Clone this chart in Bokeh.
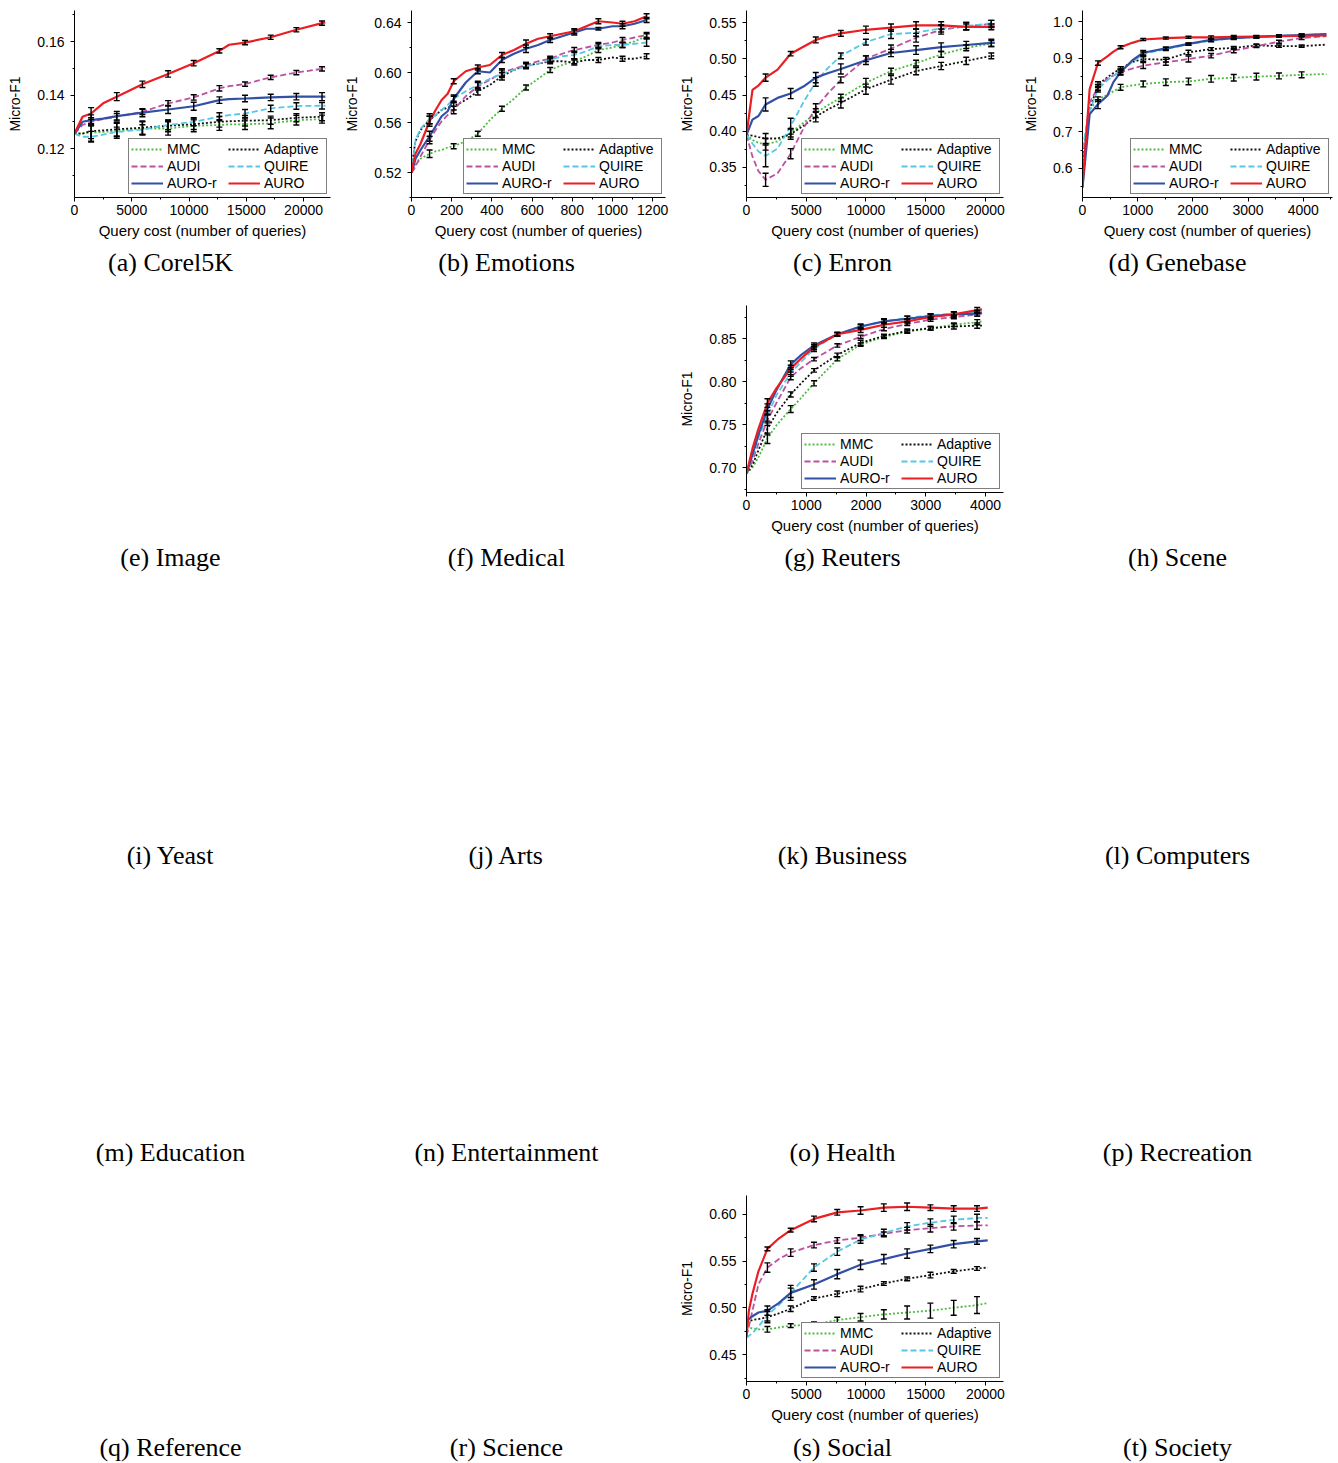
from bokeh.plotting import figure
from bokeh.layouts import row, column
from bokeh.models import Legend, LegendItem, Label, SingleIntervalTicker, NumeralTickFormatter, Range1d, Spacer
from bokeh.embed import file_html
from bokeh.resources import INLINE

SERIES = ["MMC", "Adaptive", "AUDI", "QUIRE", "AURO-r", "AURO"]
COLORS = ["#4dbd3f", "#111111", "#be50a0", "#55c8e6", "#3250a5", "#eb1e23"]
DASHES = ["2 2", "2 2", "6 3", "6 3", "solid", "solid"]
WIDTHS = [1.8, 1.8, 1.8, 1.8, 2.2, 2.2]

CAPTIONS = ["(a) Corel5K", "(b) Emotions", "(c) Enron", "(d) Genebase",
            "(e) Image", "(f) Medical", "(g) Reuters", "(h) Scene",
            "(i) Yeast", "(j) Arts", "(k) Business", "(l) Computers",
            "(m) Education", "(n) Entertainment", "(o) Health", "(p) Recreation",
            "(q) Reference", "(r) Science", "(s) Social", "(t) Society"]

# ---------------- (a) Corel5K ----------------
COREL_X = [0, 700, 1450, 2500, 3690, 5930, 8170, 10410, 12650, 13500, 14890, 17130, 19370, 21610, 21900]
COREL_BARS = [1450, 3690, 5930, 8170, 10410, 12650, 14890, 17130, 19370, 21610]
COREL_MMC = [0.1256, 0.1257, 0.1259, 0.1262, 0.1266, 0.1275, 0.1275, 0.1285, 0.1288, 0.1290, 0.1291, 0.1294, 0.1306, 0.1310, 0.1311]
COREL_ADAPTIVE = [0.1256, 0.1256, 0.1265, 0.1268, 0.1272, 0.1278, 0.1285, 0.1291, 0.1300, 0.1302, 0.1304, 0.1306, 0.1315, 0.1319, 0.1320]
COREL_AUDI = [0.1256, 0.1288, 0.1300, 0.1310, 0.1319, 0.1337, 0.1369, 0.1391, 0.1425, 0.1433, 0.1441, 0.1466, 0.1484, 0.1498, 0.1500]
COREL_QUIRE = [0.1256, 0.1244, 0.1244, 0.1252, 0.1262, 0.1271, 0.1288, 0.1300, 0.1319, 0.1325, 0.1331, 0.1350, 0.1359, 0.1360, 0.1360]
COREL_AUROR = [0.1256, 0.1300, 0.1306, 0.1312, 0.1321, 0.1334, 0.1346, 0.1358, 0.1381, 0.1385, 0.1387, 0.1391, 0.1394, 0.1394, 0.1394]
COREL_AURO = [0.1256, 0.1319, 0.1331, 0.1369, 0.1394, 0.1440, 0.1479, 0.1519, 0.1565, 0.1588, 0.1596, 0.1616, 0.1644, 0.1669, 0.1671]
COREL_ERR_MMC = [0.0032, 0.0028, 0.0025, 0.0025, 0.0022, 0.0020, 0.0020, 0.0020, 0.0018, 0.0015]
COREL_ERR_ADAPTIVE = [0.0028, 0.0025, 0.0025, 0.0022, 0.0020, 0.0020, 0.0020, 0.0015, 0.0015, 0.0015]
COREL_ERR_AUDI = [0.0015, 0.0012, 0.0010, 0.0010, 0.0010, 0.0010, 0.0008, 0.0008, 0.0008, 0.0008]
COREL_ERR_QUIRE = [0.0020, 0.0018, 0.0018, 0.0018, 0.0015, 0.0015, 0.0015, 0.0012, 0.0012, 0.0012]
COREL_ERR_AUROR = [0.0020, 0.0018, 0.0015, 0.0015, 0.0015, 0.0012, 0.0012, 0.0012, 0.0012, 0.0015]
COREL_ERR_AURO = [0.0022, 0.0015, 0.0012, 0.0012, 0.0010, 0.0008, 0.0008, 0.0008, 0.0008, 0.0008]

# ---------------- (b) Emotions ----------------
EMO_X = [0, 10, 20, 45, 90, 120, 150, 180, 210, 270, 330, 390, 450, 510, 570, 630, 690, 750, 810, 870, 930, 1000, 1050, 1110, 1170]
EMO_BARS = [90, 210, 330, 450, 570, 690, 810, 930, 1050, 1170]
EMO_MMC = [0.520, 0.523, 0.526, 0.531, 0.535, 0.537, 0.538, 0.540, 0.541, 0.545, 0.551, 0.562, 0.571, 0.579, 0.588, 0.595, 0.602, 0.606, 0.609, 0.613, 0.618, 0.620, 0.622, 0.625, 0.629]
EMO_ADAPTIVE = [0.520, 0.535, 0.545, 0.554, 0.562, 0.566, 0.570, 0.572, 0.573, 0.578, 0.585, 0.590, 0.597, 0.602, 0.606, 0.607, 0.609, 0.609, 0.608, 0.610, 0.610, 0.612, 0.611, 0.611, 0.613]
EMO_AUDI = [0.520, 0.522, 0.525, 0.533, 0.546, 0.554, 0.561, 0.566, 0.570, 0.581, 0.589, 0.594, 0.600, 0.603, 0.606, 0.609, 0.611, 0.615, 0.618, 0.620, 0.622, 0.624, 0.626, 0.628, 0.630]
EMO_QUIRE = [0.520, 0.533, 0.546, 0.555, 0.563, 0.566, 0.570, 0.574, 0.579, 0.585, 0.590, 0.595, 0.599, 0.602, 0.605, 0.607, 0.610, 0.613, 0.614, 0.617, 0.621, 0.622, 0.622, 0.623, 0.624]
EMO_AUROR = [0.520, 0.525, 0.531, 0.538, 0.549, 0.557, 0.565, 0.569, 0.579, 0.592, 0.601, 0.600, 0.610, 0.615, 0.619, 0.622, 0.626, 0.629, 0.632, 0.635, 0.635, 0.637, 0.637, 0.639, 0.642]
EMO_AURO = [0.520, 0.528, 0.535, 0.543, 0.561, 0.570, 0.578, 0.583, 0.593, 0.601, 0.604, 0.606, 0.614, 0.618, 0.623, 0.627, 0.629, 0.631, 0.633, 0.637, 0.641, 0.640, 0.639, 0.641, 0.645]
EMO_ERR_MMC = [0.003, 0.002, 0.002, 0.002, 0.002, 0.002, 0.002, 0.002, 0.002, 0.002]
EMO_ERR_ADAPTIVE = [0.003, 0.003, 0.003, 0.003, 0.002, 0.002, 0.002, 0.002, 0.002, 0.002]
EMO_ERR_AUDI = [0.003, 0.003, 0.003, 0.003, 0.002, 0.002, 0.002, 0.002, 0.002, 0.002]
EMO_ERR_QUIRE = [0.004, 0.003, 0.003, 0.003, 0.002, 0.002, 0.003, 0.002, 0.002, 0.003]
EMO_ERR_AUROR = [0.004, 0.002, 0.002, 0.002, 0.003, 0.002, 0.002, 0.001, 0.002, 0.002]
EMO_ERR_AURO = [0.004, 0.002, 0.002, 0.002, 0.003, 0.002, 0.002, 0.002, 0.002, 0.002]

# ---------------- (c) Enron ----------------
ENRON_X = [0, 500, 1000, 1600, 2600, 3700, 4800, 5800, 6800, 7900, 10000, 12100, 14200, 16300, 18400, 20500, 20800]
ENRON_BARS = [1600, 3700, 5800, 7900, 10000, 12100, 14200, 16300, 18400, 20500]
ENRON_MMC = [0.395, 0.388, 0.384, 0.382, 0.386, 0.398, 0.412, 0.425, 0.436, 0.446, 0.467, 0.483, 0.494, 0.506, 0.515, 0.521, 0.522]
ENRON_ADAPTIVE = [0.395, 0.394, 0.392, 0.390, 0.390, 0.396, 0.408, 0.420, 0.430, 0.439, 0.458, 0.471, 0.483, 0.490, 0.497, 0.504, 0.504]
ENRON_AUDI = [0.395, 0.365, 0.345, 0.333, 0.342, 0.369, 0.405, 0.432, 0.452, 0.471, 0.500, 0.514, 0.529, 0.540, 0.545, 0.548, 0.548]
ENRON_QUIRE = [0.395, 0.383, 0.372, 0.366, 0.376, 0.407, 0.441, 0.468, 0.487, 0.504, 0.523, 0.534, 0.536, 0.542, 0.545, 0.549, 0.549]
ENRON_AUROR = [0.395, 0.416, 0.421, 0.437, 0.446, 0.452, 0.462, 0.474, 0.480, 0.486, 0.498, 0.508, 0.512, 0.516, 0.519, 0.522, 0.522]
ENRON_AURO = [0.395, 0.457, 0.463, 0.474, 0.485, 0.507, 0.517, 0.526, 0.531, 0.535, 0.540, 0.543, 0.546, 0.546, 0.544, 0.544, 0.544]
ENRON_ERR_MMC = [0.008, 0.006, 0.006, 0.005, 0.006, 0.004, 0.004, 0.004, 0.004, 0.004]
ENRON_ERR_ADAPTIVE = [0.007, 0.007, 0.007, 0.007, 0.007, 0.006, 0.005, 0.005, 0.005, 0.004]
ENRON_ERR_AUDI = [0.009, 0.007, 0.006, 0.004, 0.004, 0.005, 0.006, 0.006, 0.005, 0.005]
ENRON_ERR_QUIRE = [0.015, 0.011, 0.006, 0.004, 0.004, 0.006, 0.005, 0.005, 0.005, 0.004]
ENRON_ERR_AUROR = [0.009, 0.007, 0.007, 0.007, 0.006, 0.005, 0.006, 0.006, 0.005, 0.005]
ENRON_ERR_AURO = [0.005, 0.003, 0.004, 0.004, 0.005, 0.005, 0.005, 0.005, 0.004, 0.004]

# ---------------- (d) Genebase ----------------
GENE_X = [0, 130, 280, 450, 560, 690, 900, 1100, 1510, 1920, 2330, 2740, 3150, 3560, 3970, 4420]
GENE_BARS = [280, 690, 1100, 1510, 1920, 2330, 2740, 3150, 3560, 3970]
GENE_MMC = [0.600, 0.760, 0.789, 0.800, 0.810, 0.821, 0.826, 0.830, 0.835, 0.837, 0.844, 0.847, 0.850, 0.852, 0.855, 0.857]
GENE_ADAPTIVE = [0.620, 0.760, 0.828, 0.848, 0.860, 0.871, 0.890, 0.898, 0.896, 0.916, 0.925, 0.928, 0.935, 0.933, 0.933, 0.937]
GENE_AUDI = [0.630, 0.780, 0.821, 0.845, 0.853, 0.862, 0.872, 0.880, 0.889, 0.898, 0.907, 0.921, 0.933, 0.945, 0.955, 0.960]
GENE_QUIRE = [0.655, 0.757, 0.816, 0.840, 0.852, 0.866, 0.889, 0.912, 0.925, 0.938, 0.948, 0.955, 0.958, 0.961, 0.963, 0.966]
GENE_AUROR = [0.547, 0.748, 0.775, 0.798, 0.835, 0.862, 0.894, 0.915, 0.927, 0.939, 0.950, 0.955, 0.958, 0.961, 0.963, 0.966]
GENE_AURO = [0.552, 0.816, 0.887, 0.905, 0.918, 0.930, 0.942, 0.951, 0.955, 0.957, 0.957, 0.958, 0.959, 0.960, 0.961, 0.962]
GENE_ERR_MMC = [0.006, 0.008, 0.008, 0.009, 0.009, 0.009, 0.009, 0.009, 0.008, 0.008]
GENE_ERR_ADAPTIVE = [0.008, 0.006, 0.006, 0.006, 0.006, 0.004, 0.004, 0.004, 0.003, 0.003]
GENE_ERR_AUDI = [0.008, 0.006, 0.008, 0.008, 0.008, 0.006, 0.006, 0.004, 0.004, 0.004]
GENE_ERR_QUIRE = [0.008, 0.005, 0.005, 0.004, 0.003, 0.003, 0.003, 0.003, 0.003, 0.003]
GENE_ERR_AUROR = [0.012, 0.008, 0.006, 0.004, 0.003, 0.004, 0.004, 0.003, 0.003, 0.003]
GENE_ERR_AURO = [0.006, 0.004, 0.003, 0.003, 0.003, 0.004, 0.004, 0.003, 0.003, 0.003]

# ---------------- (g) Reuters ----------------
REUT_X = [0, 100, 200, 350, 500, 740, 900, 1130, 1520, 1910, 2300, 2690, 3080, 3470, 3860, 3940]
REUT_BARS = [350, 740, 1130, 1520, 1910, 2300, 2690, 3080, 3470, 3860]
REUT_MMC = [0.693, 0.700, 0.712, 0.734, 0.749, 0.768, 0.780, 0.798, 0.826, 0.843, 0.852, 0.858, 0.862, 0.866, 0.869, 0.870]
REUT_ADAPTIVE = [0.693, 0.703, 0.720, 0.745, 0.763, 0.785, 0.797, 0.813, 0.831, 0.845, 0.853, 0.859, 0.862, 0.864, 0.865, 0.865]
REUT_AUDI = [0.693, 0.708, 0.728, 0.755, 0.775, 0.805, 0.815, 0.826, 0.842, 0.852, 0.861, 0.867, 0.872, 0.875, 0.878, 0.879]
REUT_QUIRE = [0.693, 0.712, 0.735, 0.760, 0.784, 0.810, 0.822, 0.838, 0.855, 0.864, 0.870, 0.874, 0.877, 0.879, 0.881, 0.882]
REUT_AUROR = [0.693, 0.715, 0.738, 0.768, 0.790, 0.820, 0.830, 0.842, 0.855, 0.864, 0.870, 0.873, 0.876, 0.878, 0.879, 0.880]
REUT_AURO = [0.693, 0.722, 0.745, 0.775, 0.792, 0.815, 0.826, 0.840, 0.855, 0.860, 0.866, 0.870, 0.875, 0.878, 0.883, 0.884]
REUT_ERR_MMC = [0.006, 0.004, 0.003, 0.002, 0.002, 0.002, 0.002, 0.002, 0.002, 0.003]
REUT_ERR_ADAPTIVE = [0.007, 0.003, 0.002, 0.002, 0.003, 0.002, 0.002, 0.002, 0.003, 0.003]
REUT_ERR_AUDI = [0.006, 0.003, 0.002, 0.002, 0.002, 0.002, 0.002, 0.002, 0.002, 0.002]
REUT_ERR_QUIRE = [0.006, 0.004, 0.003, 0.002, 0.002, 0.002, 0.002, 0.002, 0.002, 0.002]
REUT_ERR_AUROR = [0.006, 0.004, 0.003, 0.002, 0.003, 0.003, 0.003, 0.003, 0.003, 0.003]
REUT_ERR_AURO = [0.005, 0.004, 0.003, 0.002, 0.003, 0.003, 0.003, 0.003, 0.003, 0.003]

# ---------------- (s) Social ----------------
SOC_X = [0, 200, 500, 1000, 1750, 2700, 3700, 5650, 7600, 9550, 11500, 13450, 15400, 17350, 19300, 20200]
SOC_BARS = [1750, 3700, 5650, 7600, 9550, 11500, 13450, 15400, 17350, 19300]
SOC_MMC = [0.480, 0.479, 0.478, 0.477, 0.477, 0.479, 0.481, 0.482, 0.487, 0.490, 0.493, 0.495, 0.497, 0.500, 0.503, 0.505]
SOC_ADAPTIVE = [0.486, 0.486, 0.487, 0.488, 0.490, 0.494, 0.499, 0.510, 0.515, 0.520, 0.526, 0.531, 0.535, 0.539, 0.542, 0.543]
SOC_AUDI = [0.470, 0.480, 0.497, 0.525, 0.543, 0.552, 0.559, 0.567, 0.572, 0.575, 0.579, 0.583, 0.585, 0.587, 0.588, 0.588]
SOC_QUIRE = [0.468, 0.470, 0.473, 0.480, 0.492, 0.503, 0.516, 0.543, 0.560, 0.573, 0.580, 0.587, 0.591, 0.594, 0.596, 0.596]
SOC_AUROR = [0.485, 0.488, 0.491, 0.495, 0.497, 0.505, 0.516, 0.525, 0.536, 0.546, 0.552, 0.558, 0.563, 0.568, 0.571, 0.572]
SOC_AURO = [0.469, 0.497, 0.515, 0.539, 0.563, 0.574, 0.583, 0.595, 0.602, 0.604, 0.607, 0.608, 0.607, 0.606, 0.606, 0.607]
SOC_ERR_MMC = [0.003, 0.002, 0.003, 0.003, 0.004, 0.005, 0.007, 0.008, 0.008, 0.009]
SOC_ERR_ADAPTIVE = [0.006, 0.003, 0.002, 0.003, 0.003, 0.002, 0.002, 0.003, 0.002, 0.002]
SOC_ERR_AUDI = [0.005, 0.004, 0.003, 0.003, 0.003, 0.002, 0.003, 0.004, 0.004, 0.004]
SOC_ERR_QUIRE = [0.006, 0.005, 0.004, 0.004, 0.004, 0.004, 0.004, 0.004, 0.004, 0.004]
SOC_ERR_AUROR = [0.005, 0.008, 0.005, 0.005, 0.005, 0.005, 0.005, 0.004, 0.004, 0.003]
SOC_ERR_AURO = [0.002, 0.002, 0.003, 0.003, 0.004, 0.004, 0.004, 0.003, 0.003, 0.003]

PLOTS = {
    0: dict(x=COREL_X, bars=COREL_BARS,
            ys=[COREL_MMC, COREL_ADAPTIVE, COREL_AUDI, COREL_QUIRE, COREL_AUROR, COREL_AURO],
            errs=[COREL_ERR_MMC, COREL_ERR_ADAPTIVE, COREL_ERR_AUDI, COREL_ERR_QUIRE, COREL_ERR_AUROR, COREL_ERR_AURO],
            xr=(0, 22350), yr=(0.1017, 0.1716), xi=5000, yi=0.02, fmt="0.00", top=10, fh=187),
    1: dict(x=EMO_X, bars=EMO_BARS,
            ys=[EMO_MMC, EMO_ADAPTIVE, EMO_AUDI, EMO_QUIRE, EMO_AUROR, EMO_AURO],
            errs=[EMO_ERR_MMC, EMO_ERR_ADAPTIVE, EMO_ERR_AUDI, EMO_ERR_QUIRE, EMO_ERR_AUROR, EMO_ERR_AURO],
            xr=(0, 1264), yr=(0.500, 0.6496), xi=200, yi=0.04, fmt="0.00", top=10, fh=187),
    2: dict(x=ENRON_X, bars=ENRON_BARS,
            ys=[ENRON_MMC, ENRON_ADAPTIVE, ENRON_AUDI, ENRON_QUIRE, ENRON_AUROR, ENRON_AURO],
            errs=[ENRON_ERR_MMC, ENRON_ERR_ADAPTIVE, ENRON_ERR_AUDI, ENRON_ERR_QUIRE, ENRON_ERR_AUROR, ENRON_ERR_AURO],
            xr=(0, 21520), yr=(0.3086, 0.5666), xi=5000, yi=0.05, fmt="0.00", top=10, fh=187),
    3: dict(x=GENE_X, bars=GENE_BARS,
            ys=[GENE_MMC, GENE_ADAPTIVE, GENE_AUDI, GENE_QUIRE, GENE_AUROR, GENE_AURO],
            errs=[GENE_ERR_MMC, GENE_ERR_ADAPTIVE, GENE_ERR_AUDI, GENE_ERR_QUIRE, GENE_ERR_AUROR, GENE_ERR_AURO],
            xr=(0, 4529), yr=(0.521, 1.030), xi=1000, yi=0.1, fmt="0.0", top=10, fh=187),
    6: dict(x=REUT_X, bars=REUT_BARS,
            ys=[REUT_MMC, REUT_ADAPTIVE, REUT_AUDI, REUT_QUIRE, REUT_AUROR, REUT_AURO],
            errs=[REUT_ERR_MMC, REUT_ERR_ADAPTIVE, REUT_ERR_AUDI, REUT_ERR_QUIRE, REUT_ERR_AUROR, REUT_ERR_AURO],
            xr=(0, 4300), yr=(0.671, 0.8884), xi=1000, yi=0.05, fmt="0.00", top=15, fh=187),
    18: dict(x=SOC_X, bars=SOC_BARS,
             ys=[SOC_MMC, SOC_ADAPTIVE, SOC_AUDI, SOC_QUIRE, SOC_AUROR, SOC_AURO],
             errs=[SOC_ERR_MMC, SOC_ERR_ADAPTIVE, SOC_ERR_AUDI, SOC_ERR_QUIRE, SOC_ERR_AUROR, SOC_ERR_AURO],
             xr=(0, 21520), yr=(0.4213, 0.620), xi=5000, yi=0.05, fmt="0.00", top=14, fh=187),
}

# layout geometry (page pixels, page starts at 0,0)
COL_START = [0, 340, 676, 1012]
COL_W = [340, 336, 336, 324]
COL_BL = [74, 71, 70, 70]
COL_FW = [256, 254, 257, 250]
ROW_PLOT_H = [245, 250, 250, 250, 244]
ROW_CAP_H = [45, 47, 47, 47, 37]
CAP_X = [170, 506, 842, 1177]
CAP_FROM_BOTTOM = [28, 30, 29, 29, 15]

SANS = "Liberation Sans"
SERIF = "Liberation Serif"


def caption_fig(idx, r, c):
    p = figure(width=COL_W[c], height=ROW_CAP_H[r], x_axis_location=None, y_axis_location=None,
               toolbar_location=None, output_backend="svg", title=None,
               min_border_left=0, min_border_right=0, min_border_top=0, min_border_bottom=0,
               x_range=Range1d(0, 1), y_range=Range1d(0, 1))
    p.outline_line_color = None
    p.grid.visible = False
    p.add_layout(Label(x=CAP_X[c] - COL_START[c], y=CAP_FROM_BOTTOM[r], x_units="screen", y_units="screen",
                       text=CAPTIONS[idx], text_align="center", text_baseline="middle",
                       text_font=SERIF, text_font_size="26px", text_color="black"))
    return p


def data_fig(idx, r, c):
    spec = PLOTS[idx]
    bl, fw = COL_BL[c], COL_FW[c]
    br = COL_W[c] - bl - fw
    bt, fh = spec["top"], spec["fh"]
    bb = ROW_PLOT_H[r] - bt - fh
    p = figure(width=COL_W[c], height=ROW_PLOT_H[r], toolbar_location=None, output_backend="svg", title=None,
               x_range=Range1d(*spec["xr"]), y_range=Range1d(*spec["yr"]),
               min_border_left=bl, min_border_right=br, min_border_top=bt, min_border_bottom=bb)
    p.outline_line_color = None
    p.grid.visible = False
    p.background_fill_color = "white"

    p.xaxis.ticker = SingleIntervalTicker(interval=spec["xi"], num_minor_ticks=2)
    p.yaxis.ticker = SingleIntervalTicker(interval=spec["yi"], num_minor_ticks=2)
    p.yaxis.formatter = NumeralTickFormatter(format=spec["fmt"])
    for ax in (p.xaxis, p.yaxis):
        ax.axis_line_color = "black"
        ax.major_tick_line_color = "black"
        ax.minor_tick_line_color = "black"
        ax.major_tick_in = 0
        ax.major_tick_out = 4
        ax.minor_tick_in = 0
        ax.minor_tick_out = 2
        ax.major_label_text_font = SANS
        ax.major_label_text_font_size = "14px"
        ax.major_label_text_color = "black"
        ax.axis_label_text_font = SANS
        ax.axis_label_text_font_style = "normal"
        ax.axis_label_text_color = "black"
    p.xaxis.axis_label = "Query cost (number of queries)"
    p.xaxis.axis_label_text_font_size = "15px"
    p.xaxis.major_label_standoff = 3
    p.xaxis.axis_label_standoff = 4
    p.yaxis.axis_label = "Micro-F1"
    p.yaxis.axis_label_text_font_size = "14px"
    p.yaxis.major_label_standoff = 6
    p.yaxis.axis_label_standoff = 11

    xs = spec["x"]
    renderers = []
    for k in range(6):
        rr = p.line(xs, spec["ys"][k], line_color=COLORS[k], line_width=WIDTHS[k], line_dash=DASHES[k])
        renderers.append(rr)

    # error bars
    for k in range(6):
        bx = spec["bars"]
        by = [spec["ys"][k][xs.index(b)] for b in bx]
        lo = [v - e for v, e in zip(by, spec["errs"][k])]
        hi = [v + e for v, e in zip(by, spec["errs"][k])]
        p.segment(x0=bx, y0=lo, x1=bx, y1=hi, line_color="black", line_width=1.4)
        p.scatter(bx + bx, lo + hi, marker="dash", size=6, line_color="black", line_width=1.4)

    order = [0, 2, 4, 1, 3, 5]
    items = [LegendItem(label=SERIES[k], renderers=[renderers[k]]) for k in order]
    leg = Legend(items=items, location="bottom_right", ncols=2, orientation="vertical",
                 label_text_font=SANS, label_text_font_size="14px", label_text_color="black",
                 glyph_width=32, glyph_height=14, label_height=14, label_width=60, label_standoff=4,
                 spacing=1, padding=2, margin=3,
                 border_line_color="black", border_line_width=1, background_fill_alpha=1.0)
    p.add_layout(leg, "center")
    return p


rows = []
for r in range(5):
    top = []
    caps = []
    for c in range(4):
        idx = r * 4 + c
        if idx in PLOTS:
            top.append(data_fig(idx, r, c))
        else:
            top.append(Spacer(width=COL_W[c], height=ROW_PLOT_H[r]))
        caps.append(caption_fig(idx, r, c))
    rows.append(row(*top, spacing=0))
    rows.append(row(*caps, spacing=0))

page = column(*rows, spacing=0)
open("out.html", "w").write(file_html(page, INLINE))
